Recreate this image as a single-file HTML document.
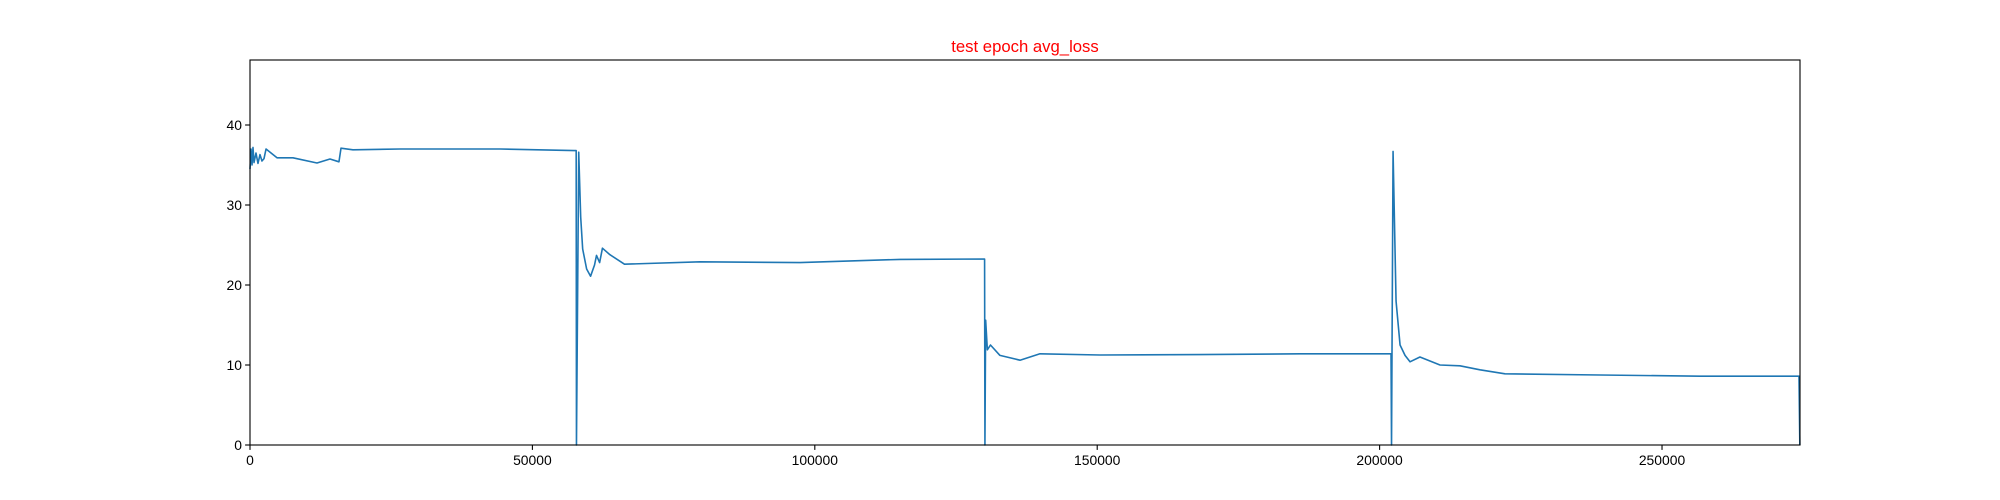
<!DOCTYPE html>
<html><head><meta charset="utf-8"><style>
html,body{margin:0;padding:0;background:#fff;}
svg{display:block;font-family:"Liberation Sans","DejaVu Sans",sans-serif;}
</style></head><body>
<svg id="chart" width="2000" height="500" viewBox="0 0 2000 500" xmlns="http://www.w3.org/2000/svg">
<rect x="0" y="0" width="2000" height="500" fill="#fff"/>
<text x="1025" y="52" text-anchor="middle" font-size="16.7" fill="#ff0000">test epoch avg_loss</text>
<g id="plot"></g>
</svg>
<script>
const xValues = [0,180,360,530,710,1060,1410,1770,2120,2480,2840,4780,7610,11860,14160,15750,16110,18230,26570,44290,57400,57750,57800,58200,58550,58900,59600,60300,61000,61350,61900,62400,63700,66300,79680,97380,115090,130000,130060,130120,130250,130550,131100,132780,136330,139870,150490,168190,185900,201910,202020,202110,202380,202910,203620,204500,205380,207140,210690,214230,217770,222200,239020,256730,274250,274400];
const yValues = [34.5,37,35,37.2,35.3,36.5,35.2,36.3,35.5,35.8,37.0,35.9,35.9,35.25,35.75,35.4,37.1,36.9,37.0,37.0,36.8,36.8,0,36.6,28.5,24.5,22,21.1,22.5,23.7,22.8,24.6,23.8,22.6,22.9,22.8,23.2,23.25,23.25,0,15.6,11.9,12.5,11.2,10.6,11.4,11.25,11.3,11.4,11.4,11.4,0,36.7,18,12.5,11.2,10.4,11,10,9.9,9.4,8.9,8.75,8.6,8.6,0];
const xTicks = [0,50000,100000,150000,200000,250000];
const yTicks = [0,10,20,30,40];
const L=250,R=1800,T=60,B=445;
const X0=0,X1=274430,Y0=0,Y1=48.125;
function sx(v){return L+(v-X0)/(X1-X0)*(R-L);}
function sy(v){return B-(v-Y0)/(Y1-Y0)*(B-T);}
const NS="http://www.w3.org/2000/svg";
const g=document.getElementById('plot');
function mk(tag,attrs){const e=document.createElementNS(NS,tag);for(const k in attrs)e.setAttribute(k,attrs[k]);g.appendChild(e);return e;}
let d='';
for(let i=0;i<xValues.length;i++){d+=(i?'L':'M')+sx(xValues[i]).toFixed(2)+','+sy(yValues[i]).toFixed(2);}
const line=mk('path',{d:d,fill:'none',stroke:'#1f77b4','stroke-width':'1.6','stroke-linejoin':'round'});


xTicks.forEach(t=>{
  const tk=mk('line',{x1:sx(t),x2:sx(t),y1:B,y2:B+4.9,stroke:'#000','stroke-width':'1.1'});
  
  
  const lb=mk('text',{x:sx(t),y:B+20,'text-anchor':'middle','font-size':'13.9',fill:'#000'});
  lb.textContent=String(t);
  
  
});
yTicks.forEach(t=>{
  const tk=mk('line',{x1:L-4.9,x2:L,y1:sy(t),y2:sy(t),stroke:'#000','stroke-width':'1.1'});
  
  
  const lb=mk('text',{x:L-8,y:sy(t)+5,'text-anchor':'end','font-size':'13.9',fill:'#000'});
  lb.textContent=String(t);
  
  
});
const fr=mk('rect',{x:L,y:T,width:R-L,height:B-T,fill:'none',stroke:'#000','stroke-width':'1.1'});


</script>
</body></html>
